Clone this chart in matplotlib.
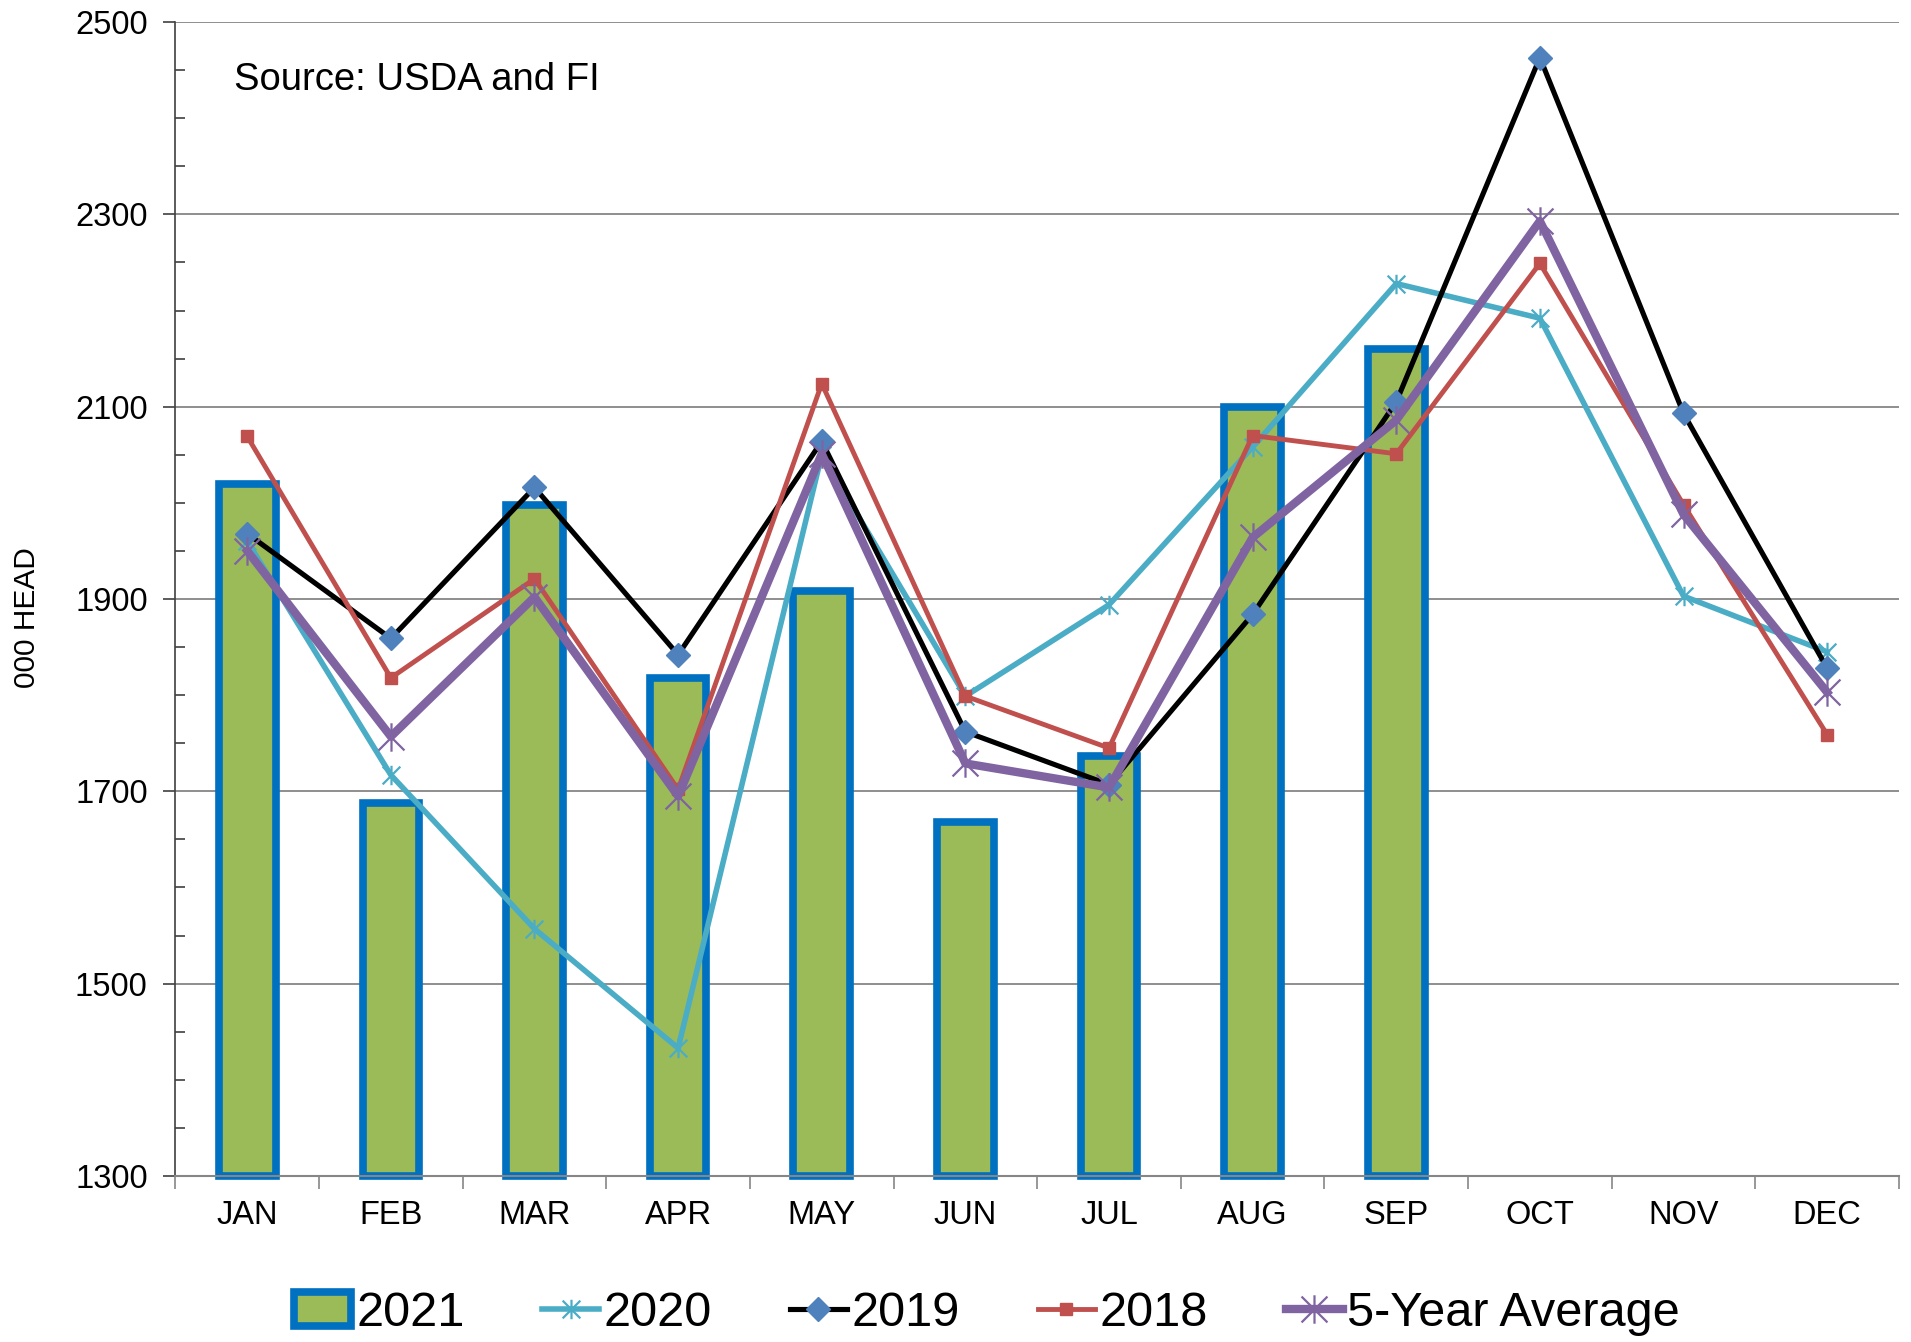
import matplotlib
matplotlib.use("Agg")
import matplotlib.pyplot as plt
from matplotlib.path import Path
from matplotlib.patches import Patch
from matplotlib.lines import Line2D
from matplotlib.ticker import MultipleLocator

plt.rcParams['font.family'] = ['Liberation Sans', 'DejaVu Sans']

months = ["JAN", "FEB", "MAR", "APR", "MAY", "JUN", "JUL", "AUG", "SEP", "OCT", "NOV", "DEC"]
y2021 = [2020, 1688, 1998, 1818, 1908, 1668, 1737, 2100, 2160]
y2020 = [1960, 1717, 1557, 1433, 2050, 1799, 1894, 2058, 2228, 2192, 1903, 1845]
y2019 = [1968, 1859, 2016, 1842, 2064, 1762, 1707, 1884, 2105, 2463, 2093, 1828]
y2018 = [2069, 1818, 1921, 1702, 2124, 1799, 1745, 2070, 2051, 2249, 1998, 1759]
avg5 = [1950, 1757, 1902, 1695, 2051, 1729, 1704, 1964, 2086, 2293, 1988, 1803]

YMIN, YMAX = 1300, 2500

star = Path([(-1, -1), (1, 1), (-1, 1), (1, -1), (0, -1.1), (0, 1.1)],
            [Path.MOVETO, Path.LINETO, Path.MOVETO, Path.LINETO, Path.MOVETO, Path.LINETO])

fig = plt.figure(figsize=(19.11, 13.42), dpi=100)
ax = fig.add_axes([0.0918, 0.1237, 0.9019, 0.8599])

x = list(range(len(months)))
xb = x[:len(y2021)]
ax.bar(xb, [v - YMIN for v in y2021], bottom=YMIN, width=0.395, color="#9BBB59",
       edgecolor="#0070C0", linewidth=5.5, zorder=2, clip_on=False)

st2020 = dict(color="#4BACC6", lw=4.0, marker=star, ms=14, mew=1.6, mfc="none", mec="#4BACC6")
st2019 = dict(color="black", lw=3.7, marker="D", ms=12.7, mfc="#4F81BD", mec="#4F81BD")
st2018 = dict(color="#C0504D", lw=3.5, marker="s", ms=8.7, mfc="#C0504D", mec="#C0504D")
stavg = dict(color="#8064A2", lw=6.0, marker=star, ms=20.5, mew=1.6, mfc="none", mec="#8064A2")

ax.plot(x, y2020, zorder=3, **st2020)
ax.plot(x, y2019, zorder=4, **st2019)
ax.plot(x, y2018, zorder=5, **st2018)
ax.plot(x, avg5, zorder=6, **stavg)

ax.set_xlim(-0.5, 11.5)
ax.set_ylim(YMIN, YMAX)
ax.set_yticks(range(1300, 2501, 200))
ax.yaxis.set_minor_locator(MultipleLocator(50))
ax.grid(axis="y", which="major", color="#868686", lw=1.3, zorder=0)
ax.set_axisbelow(True)

ax.set_xticks(x)
ax.set_xticklabels(months)
ax.set_xticks([i - 0.5 for i in range(13)], minor=True)
ax.tick_params(axis="x", which="major", length=0, pad=17, labelsize=23.5)
ax.tick_params(axis="x", which="minor", length=9, width=1.2, color="#868686", direction="out")
ax.tick_params(axis="y", which="major", length=9, width=1.2, direction="out",
               color="#404040", pad=11, labelsize=23.5)
ax.tick_params(axis="y", which="minor", length=7, width=1.2, direction="in", color="#404040")

for s in ["top", "right"]:
    ax.spines[s].set_visible(False)
ax.spines["left"].set_color("#404040")
ax.spines["left"].set_linewidth(1.2)
ax.spines["bottom"].set_color("#868686")
ax.spines["bottom"].set_linewidth(1.5)

fig.text(27 / 1911, 1 - 618 / 1342, "000 HEAD", rotation=90, ha="center", va="center",
         fontsize=21.5)
ax.text(0.034, 0.941, "Source: USDA and FI", transform=ax.transAxes, fontsize=27.5,
        ha="left", va="baseline")

handles = [
    Patch(facecolor="#9BBB59", edgecolor="#0070C0", linewidth=5.5),
    Line2D([], [], **st2020),
    Line2D([], [], **st2019),
    Line2D([], [], **st2018),
    Line2D([], [], **stavg),
]
labels = ["2021", "2020", "2019", "2018", "5-Year Average"]
fig.legend(handles, labels, loc="center", bbox_to_anchor=(0.5166, 0.021), ncol=5,
           frameon=False, fontsize=35, handlelength=1.17, handletextpad=0.1,
           columnspacing=1.6, borderaxespad=0)

fig.savefig("out.png", dpi=100)
